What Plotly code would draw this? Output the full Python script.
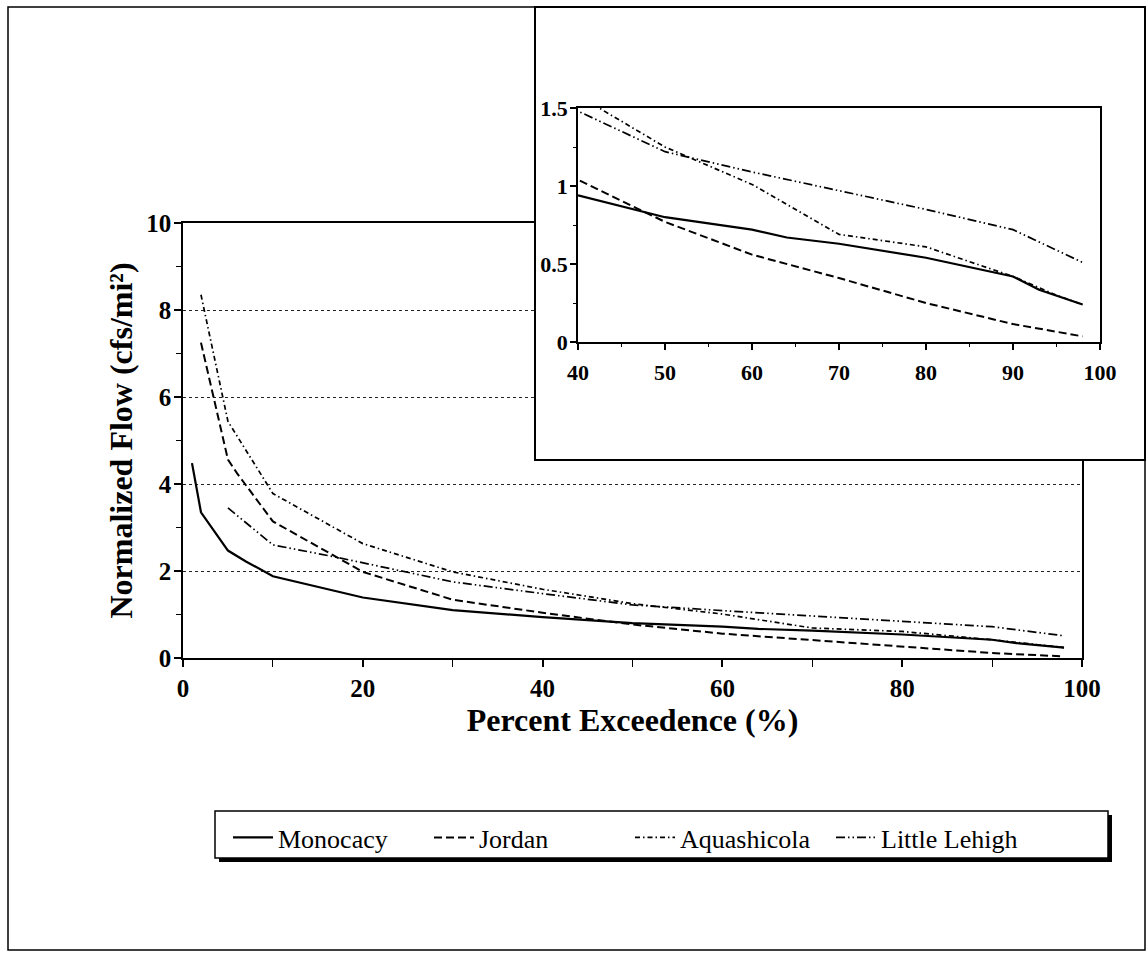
import plotly.graph_objects as go

W, H = 1147, 955

# Flow-duration data: percent of time exceeded vs. normalized flow (cfs/mi²)
monocacy_pct = [1, 2, 5, 7, 10, 20, 30, 40, 50, 60, 64, 70, 80, 90, 93, 98]
monocacy_flow = [4.48, 3.35, 2.47, 2.22, 1.88, 1.39, 1.10, 0.94, 0.80, 0.72, 0.67, 0.63, 0.54, 0.42, 0.335, 0.24]

jordan_pct = [2, 5, 6, 10, 20, 30, 40, 50, 60, 70, 80, 90, 98]
jordan_flow = [7.25, 4.56, 4.25, 3.14, 1.98, 1.34, 1.04, 0.77, 0.56, 0.41, 0.25, 0.115, 0.036]

aquashicola_pct = [2, 5, 10, 20, 30, 40, 50, 60, 70, 80, 90, 95, 98]
aquashicola_flow = [8.35, 5.44, 3.78, 2.63, 1.98, 1.58, 1.25, 1.01, 0.69, 0.61, 0.42, 0.30, 0.24]

little_lehigh_pct = [5, 10, 17, 30, 40, 50, 60, 70, 80, 90, 98]
little_lehigh_flow = [3.45, 2.60, 2.32, 1.75, 1.48, 1.22, 1.09, 0.97, 0.85, 0.72, 0.51]

main_x_ticks = [0, 20, 40, 60, 80, 100]
main_y_ticks = [0, 2, 4, 6, 8, 10]
inset_x_ticks = [40, 50, 60, 70, 80, 90, 100]
inset_y_ticks = [0, 0.5, 1, 1.5]


def px(x):
    return x / W


def py(y):
    return 1 - y / H


FONT = "Liberation Serif"

series = [
    ("Monocacy", monocacy_pct, monocacy_flow, dict(color="black", width=2.2, dash="solid")),
    ("Jordan", jordan_pct, jordan_flow, dict(color="black", width=2, dash="8px,4px")),
    ("Aquashicola", aquashicola_pct, aquashicola_flow, dict(color="black", width=1.7, dash="5px,3px,1.5px,3px")),
    ("Little Lehigh", little_lehigh_pct, little_lehigh_flow,
     dict(color="black", width=1.7, dash="9px,3px,1.5px,3px,1.5px,3px")),
]

fig = go.Figure()

# main curves
for name, xs, ys, line in series:
    fig.add_trace(go.Scatter(x=xs, y=ys, mode="lines", name=name, line=line,
                             xaxis="x", yaxis="y"))

# blank white panel that holds the inset
fig.add_trace(go.Scatter(x=[], y=[], mode="lines", showlegend=False, hoverinfo="skip",
                         xaxis="x2", yaxis="y2"))

# inset: 40-100 % exceedence, low-flow detail
for name, xs, ys, line in series:
    fig.add_trace(go.Scatter(x=xs, y=ys, mode="lines", name=name, line=line,
                             showlegend=False, xaxis="x3", yaxis="y3"))

tick_bold = dict(family=FONT, size=25, color="black", weight="bold")
tick_inset = dict(family=FONT, size=22, color="black", weight="bold")

main_dom_x = [px(183), px(1082)]
main_dom_y = [py(658), py(223)]
inset_dom_x = [px(578), px(1100)]
inset_dom_y = [py(342), py(108)]

common = dict(automargin=False, zeroline=False)

fig.update_layout(
    width=W, height=H, autosize=False,
    margin=dict(l=0, r=0, t=0, b=0, pad=0, autoexpand=False),
    paper_bgcolor="white", plot_bgcolor="white",
    font=dict(family=FONT, color="black"),
    showlegend=True,
    legend=dict(orientation="h", x=px(228), y=py(814), xanchor="left", yanchor="top",
                bgcolor="rgba(0,0,0,0)", borderwidth=0,
                font=dict(family=FONT, size=26, color="black"),
                itemwidth=40, entrywidth=146, entrywidthmode="pixels"),
    xaxis=dict(domain=main_dom_x, anchor="y", range=[0, 100],
               tickmode="array", tickvals=main_x_ticks,
               ticks="outside", ticklen=7, tickwidth=1.5, tickcolor="black",
               minor=dict(dtick=10, tick0=0, ticks="outside", ticklen=7, tickwidth=1.2,
                          tickcolor="black", showgrid=False),
               showline=True, linecolor="black", linewidth=1.5, mirror=True,
               showgrid=False, tickfont=tick_bold, ticklabelstandoff=0,
               title=dict(text="Percent Exceedence (%)", standoff=2,
                          font=dict(family=FONT, size=32, color="black", weight="bold")),
               **common),
    yaxis=dict(domain=main_dom_y, anchor="x", range=[0, 10],
               tickmode="array", tickvals=main_y_ticks,
               ticks="outside", ticklen=7, tickwidth=1.5, tickcolor="black",
               minor=dict(dtick=1, tick0=0, ticks="outside", ticklen=5, tickwidth=1.2,
                          tickcolor="black", showgrid=False),
               showline=True, linecolor="black", linewidth=1.5, mirror=True,
               showgrid=True, gridcolor="#222222", griddash="dot", gridwidth=1.2,
               tickfont=tick_bold, ticklabelstandoff=-2,
               title=dict(text="Normalized Flow (cfs/mi²)", standoff=4,
                          font=dict(family=FONT, size=32, color="black", weight="bold")),
               **common),
    # inward half of the crossing ticks on the main axes
    xaxis4=dict(overlaying="x", anchor="y", range=[0, 100], side="bottom",
                tickmode="array", tickvals=main_x_ticks,
                ticks="inside", ticklen=7, tickwidth=1.5, tickcolor="black",
                minor=dict(dtick=10, tick0=0, ticks="inside", ticklen=7, tickwidth=1.2,
                           tickcolor="black", showgrid=False),
                showticklabels=False, showgrid=False, showline=False, **common),
    yaxis4=dict(overlaying="y", anchor="x", range=[0, 10], side="left",
                tickmode="array", tickvals=main_y_ticks,
                ticks="inside", ticklen=7, tickwidth=1.5, tickcolor="black",
                minor=dict(dtick=1, tick0=0, ticks="inside", ticklen=5, tickwidth=1.2,
                           tickcolor="black", showgrid=False),
                showticklabels=False, showgrid=False, showline=False, **common),
    # panel behind the inset
    xaxis2=dict(domain=[px(535), px(1145)], anchor="y2", range=[0, 1],
                showline=False, showticklabels=False, ticks="", showgrid=False, **common),
    yaxis2=dict(domain=[py(460), py(7)], anchor="x2", range=[0, 1],
                showline=False, showticklabels=False, ticks="", showgrid=False, **common),
    # inset axes
    xaxis3=dict(domain=inset_dom_x, anchor="y3", range=[40, 100],
                tickmode="array", tickvals=inset_x_ticks,
                ticks="outside", ticklen=6, tickwidth=1.5, tickcolor="black",
                minor=dict(dtick=5, tick0=0, ticks="outside", ticklen=3, tickwidth=1.2,
                           tickcolor="black", showgrid=False),
                showline=True, linecolor="black", linewidth=1.5, mirror=True,
                showgrid=False, tickfont=tick_inset, ticklabelstandoff=4, **common),
    yaxis3=dict(domain=inset_dom_y, anchor="x3", range=[0, 1.5],
                tickmode="array", tickvals=inset_y_ticks, ticktext=["0", "0.5", "1", "1.5"],
                ticks="outside", ticklen=6, tickwidth=1.5, tickcolor="black",
                minor=dict(dtick=0.25, tick0=0, ticks="outside", ticklen=3, tickwidth=1.2,
                           tickcolor="black", showgrid=False),
                showline=True, linecolor="black", linewidth=1.5, mirror=True,
                showgrid=False, tickfont=tick_inset, ticklabelstandoff=-2, **common),
    xaxis5=dict(overlaying="x3", anchor="y3", range=[40, 100], side="bottom",
                tickmode="array", tickvals=inset_x_ticks,
                ticks="inside", ticklen=5, tickwidth=1.5, tickcolor="black",
                showticklabels=False, showgrid=False, showline=False, **common),
    yaxis5=dict(overlaying="y3", anchor="x3", range=[0, 1.5], side="left",
                tickmode="array", tickvals=inset_y_ticks,
                ticks="inside", ticklen=5, tickwidth=1.5, tickcolor="black",
                showticklabels=False, showgrid=False, showline=False, **common),
)

legend_box = (px(215), py(858), px(1108), py(811))
shadow = 4

fig.update_layout(shapes=[
    # outer frame
    dict(type="rect", xref="paper", yref="paper", x0=px(8), x1=px(1145), y0=py(950), y1=py(7),
         line=dict(color="black", width=1.5), fillcolor="rgba(0,0,0,0)", layer="above"),
    # inset panel border
    dict(type="rect", xref="paper", yref="paper", x0=px(535), x1=px(1145), y0=py(460), y1=py(7),
         line=dict(color="black", width=2), fillcolor="rgba(0,0,0,0)", layer="above"),
    # legend drop shadow and box
    dict(type="rect", xref="paper", yref="paper",
         x0=legend_box[0] + shadow / W, x1=legend_box[2] + shadow / W,
         y0=legend_box[1] - shadow / H, y1=legend_box[3] - shadow / H,
         line=dict(width=0), fillcolor="black", layer="above"),
    dict(type="rect", xref="paper", yref="paper",
         x0=legend_box[0], x1=legend_box[2], y0=legend_box[1], y1=legend_box[3],
         line=dict(color="black", width=1.5), fillcolor="white", layer="above"),
])

# page without default body margin so the figure fills the window exactly
fig.write_html("out.html",
               post_script="document.body.style.margin='0';document.body.style.overflow='hidden';")
